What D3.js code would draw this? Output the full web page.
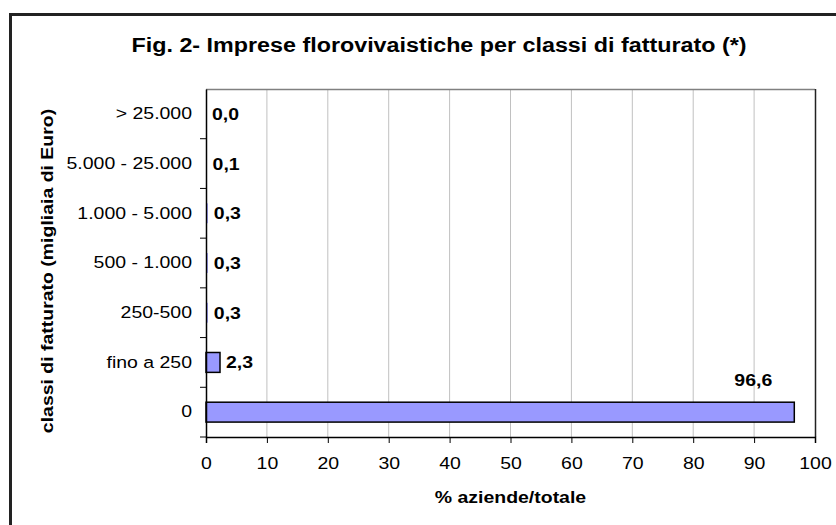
<!DOCTYPE html>
<html><head><meta charset="utf-8">
<script src="https://cdn.jsdelivr.net/npm/d3@7"></script>
<style>body{margin:0;background:#fff}svg{display:block;font-family:"Liberation Sans",Arial,sans-serif}</style>
</head><body><svg id="c" width="836" height="525"></svg>
<script>
const categories = ["> 25.000","5.000 - 25.000","1.000 - 5.000","500 - 1.000","250-500","fino a 250","0"];
const values = [0.0, 0.1, 0.3, 0.3, 0.3, 2.3, 96.6];
const valueLabels = ["0,0","0,1","0,3","0,3","0,3","2,3","96,6"];
const xTicks = [0,10,20,30,40,50,60,70,80,90,100];
const title = "Fig. 2- Imprese florovivaistiche per classi di fatturato (*)";
const xTitle = "% aziende/totale";
const yTitle = "classi di fatturato (migliaia di Euro)";

const K = 1.18; // horizontal stretch of the original's text
function stretch(sel, k){
  sel.each(function(){
    const t = d3.select(this);
    const xv = +(t.attr("x")||0);
    t.attr("x", xv/k).attr("transform", `scale(${k},1)`);
  });
}

const svg = d3.select("#c");
const L = 206, R = 815, T = 89, B = 437;
const x = d3.scaleLinear().domain([0,100]).range([L,R]);
const y = d3.scaleBand().domain(categories).range([T,B]).paddingInner(0.6).paddingOuter(0.3);
const yb = d3.scaleBand().domain(categories).range([T,B]);

// outer frame
svg.append("rect").attr("x",10.5).attr("y",14.5).attr("width",860).attr("height",540)
  .attr("fill","none").attr("stroke","#222").attr("stroke-width",3);

const tt = svg.append("text").attr("x",439).attr("y",52.5).attr("text-anchor","middle")
  .attr("font-size",21).attr("font-weight","bold").text(title);
stretch(tt, 1.11);

// gridlines
svg.append("g").selectAll("line").data(xTicks.filter(d=>d>0&&d<100)).join("line")
  .attr("x1",d=>x(d)).attr("x2",d=>x(d)).attr("y1",T).attr("y2",B)
  .attr("stroke","#c0c0c0").attr("stroke-width",1);

// plot border top/right
svg.append("line").attr("x1",L).attr("x2",R).attr("y1",T+0.5).attr("y2",T+0.5).attr("stroke","#808080").attr("stroke-width",1.5);
svg.append("line").attr("x1",R+0.5).attr("x2",R+0.5).attr("y1",T).attr("y2",B).attr("stroke","#222").attr("stroke-width",1.5);

// bars
svg.append("g").selectAll("rect").data(values).join("rect")
  .attr("x",x(0)).attr("y",(d,i)=>y(categories[i]))
  .attr("width",d=>x(d)-x(0)).attr("height",y.bandwidth())
  .attr("fill","#9999ff").attr("stroke",d=>(x(d)-x(0))>3?"#000":"none").attr("stroke-width",1.5);

// x axis
const xa = svg.append("g").attr("transform",`translate(0,${B})`)
  .call(d3.axisBottom(x).tickValues(xTicks).tickSize(6).tickPadding(14).tickFormat(d3.format("d")));
xa.select(".domain").attr("stroke","#000").attr("stroke-width",1.5);
xa.selectAll(".tick line").attr("stroke","#000");
xa.selectAll("text").attr("font-size",16.5).attr("font-family","Liberation Sans, Arial, sans-serif").attr("fill","#000");
stretch(xa.selectAll("text"), K);

// y axis
const ya = svg.append("g").attr("transform",`translate(${L},0)`)
  .call(d3.axisLeft(yb).tickSize(0).tickPadding(14));
ya.select(".domain").attr("stroke","#000").attr("stroke-width",1.5);
ya.selectAll("text").attr("font-size",16.5).attr("font-family","Liberation Sans, Arial, sans-serif").attr("fill","#000");
stretch(ya.selectAll("text"), K);
// tick marks at band boundaries
svg.append("g").selectAll("line").data(categories).join("line")
  .attr("x1",L-6).attr("x2",L).attr("y1",d=>yb(d)+yb.bandwidth()).attr("y2",d=>yb(d)+yb.bandwidth())
  .attr("stroke","#000").attr("stroke-width",1);

// value labels
const maxV = d3.max(values);
const vl = svg.append("g").selectAll("text").data(values).join("text")
  .attr("x",(d,i)=> d===maxV ? x(d)-41 : x(d)+6)
  .attr("y",(d,i)=> d===maxV ? y(categories[i])-16 : yb(categories[i])+yb.bandwidth()/2+6)
  .attr("text-anchor",d=>d===maxV?"middle":"start")
  .attr("font-size",16.5).attr("font-weight","bold").text((d,i)=>valueLabels[i]);
stretch(vl, K);

const xt = svg.append("text").attr("x",(L+R)/2).attr("y",503).attr("text-anchor","middle")
  .attr("font-size",16.5).attr("font-weight","bold").text(xTitle);
stretch(xt, K);
svg.append("g").attr("transform",`translate(53,${(T+B)/2+8}) rotate(-90) scale(${K},1)`)
  .append("text").attr("text-anchor","middle")
  .attr("font-size",16.5).attr("font-weight","bold").text(yTitle);
</script></body></html>
